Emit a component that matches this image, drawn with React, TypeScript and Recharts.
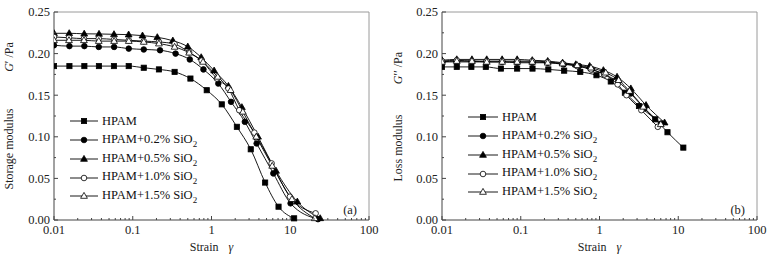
import React from "react"
import { LineChart, Line, XAxis, YAxis, ReferenceLine, Legend } from "recharts"

// (a) storage modulus G' (Pa) against strain
const strainA0 = [0.01, 0.0157, 0.0243, 0.0372, 0.0577, 0.0889, 0.138, 0.215, 0.34, 0.54, 0.87, 1.35, 2.1, 3.15, 4.8, 7.1, 11.2]
const storageA0 = [0.185, 0.185, 0.185, 0.185, 0.185, 0.185, 0.183, 0.181, 0.178, 0.17, 0.156, 0.139, 0.112, 0.085, 0.045, 0.016, 0.002]
const strainA02 = [0.01, 0.0157, 0.0243, 0.037, 0.058, 0.089, 0.138, 0.222, 0.35, 0.53, 0.79, 1.22, 1.77, 2.65, 3.74, 6.1, 10.1, 22.5]
const storageA02 = [0.21, 0.209, 0.209, 0.208, 0.208, 0.206, 0.205, 0.204, 0.2, 0.193, 0.181, 0.164, 0.142, 0.118, 0.092, 0.056, 0.02, 0.001]
const strainA05 = [0.01, 0.0156, 0.0242, 0.0373, 0.0578, 0.0887, 0.133, 0.205, 0.323, 0.5, 0.74, 1.08, 1.64, 2.43, 3.9, 6.6, 12.3, 24]
const storageA05 = [0.2244, 0.2244, 0.2238, 0.2236, 0.2232, 0.2228, 0.2216, 0.2196, 0.2155, 0.2083, 0.1955, 0.1795, 0.161, 0.1355, 0.1, 0.059, 0.022, 0.002]
const strainA10 = [0.01, 0.0155, 0.024, 0.037, 0.058, 0.089, 0.138, 0.215, 0.34, 0.52, 0.75, 1.17, 1.64, 2.25, 3.5, 5.8, 9.9, 21]
const storageA10 = [0.22, 0.219, 0.218, 0.218, 0.217, 0.216, 0.215, 0.214, 0.2115, 0.2015, 0.1915, 0.17, 0.158, 0.132, 0.105, 0.068, 0.028, 0.008]
const strainA15 = [0.01, 0.0155, 0.024, 0.037, 0.058, 0.089, 0.138, 0.215, 0.34, 0.52, 0.78, 1.2, 1.75, 2.5, 3.7, 5.9, 10.5, 20.5]
const storageA15 = [0.216, 0.216, 0.216, 0.215, 0.215, 0.215, 0.214, 0.212, 0.208, 0.201, 0.19, 0.172, 0.156, 0.13, 0.1, 0.065, 0.025, 0.002]

// (b) loss modulus G'' (Pa), right panel
const strainB0 = [0.01, 0.0154, 0.0236, 0.036, 0.056, 0.09, 0.141, 0.224, 0.356, 0.57, 0.915, 1.39, 2.1, 3.17, 5.1, 7.3, 11.6]
const lossB0 = [0.184, 0.184, 0.184, 0.184, 0.182, 0.182, 0.182, 0.181, 0.1795, 0.178, 0.174, 0.1665, 0.153, 0.137, 0.121, 0.1055, 0.087]
const strainB02 = [0.01, 0.0154, 0.024, 0.037, 0.058, 0.09, 0.14, 0.22, 0.35, 0.55, 0.8, 1.15, 1.73, 2.5, 3.7, 6.1]
const lossB02 = [0.19, 0.19, 0.19, 0.19, 0.19, 0.189, 0.189, 0.189, 0.187, 0.185, 0.181, 0.175, 0.166, 0.152, 0.134, 0.116]
const strainB05 = [0.01, 0.0154, 0.024, 0.037, 0.058, 0.09, 0.14, 0.22, 0.34, 0.5, 0.75, 1.12, 1.67, 2.5, 3.9, 6.7]
const lossB05 = [0.192, 0.193, 0.193, 0.193, 0.193, 0.193, 0.192, 0.191, 0.189, 0.187, 0.185, 0.18, 0.172, 0.158, 0.138, 0.117]
const strainB10 = [0.01, 0.0154, 0.024, 0.037, 0.058, 0.09, 0.14, 0.22, 0.34, 0.52, 0.78, 1.15, 1.7, 2.2, 3.4, 5.5]
const lossB10 = [0.191, 0.192, 0.191, 0.191, 0.191, 0.191, 0.191, 0.19, 0.188, 0.185, 0.181, 0.175, 0.163, 0.15, 0.132, 0.112]
const strainB15 = [0.01, 0.0154, 0.024, 0.037, 0.058, 0.09, 0.14, 0.22, 0.34, 0.52, 0.78, 1.2, 1.75, 2.4, 3.6, 6]
const lossB15 = [0.19, 0.191, 0.191, 0.19, 0.19, 0.19, 0.19, 0.189, 0.188, 0.186, 0.183, 0.177, 0.168, 0.155, 0.136, 0.115]

const seriesNames = ["HPAM", "HPAM+0.2% SiO", "HPAM+0.5% SiO", "HPAM+1.0% SiO", "HPAM+1.5% SiO"]

const strainTicks = [
	0.01, 0.02, 0.03, 0.04, 0.05, 0.06, 0.07, 0.08, 0.09,
	0.1, 0.2, 0.3, 0.4, 0.5, 0.6, 0.7, 0.8, 0.9,
	1, 2, 3, 4, 5, 6, 7, 8, 9,
	10, 20, 30, 40, 50, 60, 70, 80, 90, 100,
]
const strainMajor = [0.01, 0.1, 1, 10, 100]
const modulusTicks = [0, 0.025, 0.05, 0.075, 0.1, 0.125, 0.15, 0.175, 0.2, 0.225, 0.25]

type Shape = "square" | "circle" | "triangle"
const markers: { shape: Shape; filled: boolean }[] = [
	{ shape: "square", filled: true },
	{ shape: "circle", filled: true },
	{ shape: "triangle", filled: true },
	{ shape: "circle", filled: false },
	{ shape: "triangle", filled: false },
]

const FONT = "'Liberation Serif', 'Times New Roman', serif"
const AXIS = "#444"

const zip = (xs: number[], ys: number[]) => xs.map((x, i) => ({ x, y: ys[i] }))

function Marker({ cx, cy, shape, filled }: { cx: number; cy: number; shape: Shape; filled: boolean }) {
	const fill = filled ? "#000" : "#fff"
	if (shape === "square")
		return <rect x={cx - 2.6} y={cy - 2.6} width={5.2} height={5.2} fill={fill} stroke="#000" strokeWidth={0.8} />
	if (shape === "circle") return <circle cx={cx} cy={cy} r={2.8} fill={fill} stroke="#000" strokeWidth={0.8} />
	return (
		<polygon
			points={`${cx},${cy - 3.6} ${cx + 3.4},${cy + 2.3} ${cx - 3.4},${cy + 2.3}`}
			fill={fill}
			stroke="#000"
			strokeWidth={0.8}
		/>
	)
}

function StrainTick(props: any) {
	const { x, y, payload } = props
	const major = strainMajor.includes(payload.value)
	return (
		<g>
			<line x1={x} x2={x} y1={y} y2={y - (major ? 4 : 2)} stroke={AXIS} />
			{major && (
				<text x={x} y={y + 5} dy="0.71em" textAnchor="middle" fontFamily={FONT} fontSize={12.5} fill="#222">
					{String(payload.value)}
				</text>
			)}
		</g>
	)
}

function ModulusTick(props: any) {
	const { x, y, payload } = props
	const major = Math.round(payload.value * 1000) % 50 === 0
	return (
		<g>
			<line x1={x} x2={x + (major ? 4 : 2)} y1={y} y2={y} stroke={AXIS} />
			{major && (
				<text x={x - 4} y={y} dy="0.35em" textAnchor="end" fontFamily={FONT} fontSize={12.5} fill="#222">
					{payload.value.toFixed(2)}
				</text>
			)}
		</g>
	)
}

function LegendBox({ lineLen }: { lineLen: number }) {
	return (
		<div style={{ fontFamily: FONT, fontSize: 12.5, color: "#111" }}>
			{seriesNames.map((name, i) => (
				<div key={name} style={{ display: "flex", alignItems: "center", height: 18.75, whiteSpace: "nowrap" }}>
					<svg width={lineLen + 4} height={12} style={{ display: "block" }}>
						<line x1={0} x2={lineLen} y1={6} y2={6} stroke="#000" strokeWidth={0.9} />
						<Marker cx={lineLen / 2} cy={6} shape={markers[i].shape} filled={markers[i].filled} />
					</svg>
					<span>
						{name}
						{i > 0 && <sub style={{ fontSize: 9 }}>2</sub>}
					</span>
				</div>
			))}
		</div>
	)
}

type PanelProps = {
	curves: { x: number; y: number }[][]
	yTitle: string
	prime: string
	tag: string
	yAxisWidth: number
	marginRight: number
	titleX: number
	titleMid: number
	unitMid: number
	legendLeft: number
	legendTop: number
	lineLen: number
}

function Panel(p: PanelProps) {
	const xTitle = (props: any) => {
		const vb = props.viewBox
		return (
			<g fontFamily={FONT} fontSize={12} fill="#222">
				<text x={vb.x + vb.width / 2} y={251} textAnchor="middle">
					<tspan>Strain</tspan>
					<tspan dx={10} fontStyle="italic">γ</tspan>
				</text>
				<text x={vb.x + vb.width - 12} y={214} textAnchor="end" fontSize={12.5}>
					{p.tag}
				</text>
			</g>
		)
	}
	const yTitle = () => (
		<g fontFamily={FONT} fontSize={12} fill="#222">
			<text x={p.titleX} y={p.titleMid} textAnchor="middle" transform={`rotate(-90 ${p.titleX} ${p.titleMid})`}>
				{p.yTitle}
			</text>
			<text x={p.titleX} y={p.unitMid} textAnchor="middle" transform={`rotate(-90 ${p.titleX} ${p.unitMid})`}>
				<tspan fontStyle="italic">G</tspan>
				<tspan>{p.prime} /Pa</tspan>
			</text>
		</g>
	)
	return (
		<LineChart width={386} height={259} margin={{ top: 12, right: p.marginRight, bottom: 9, left: 0 }}>
			<XAxis
				xAxisId="s"
				dataKey="x"
				type="number"
				scale="log"
				domain={[0.01, 100]}
				ticks={strainTicks}
				interval={0}
				allowDataOverflow
				height={30}
				tickSize={0}
				tickMargin={0}
				tickLine={false}
				axisLine={{ stroke: AXIS }}
				tick={<StrainTick />}
				label={xTitle}
			/>
			<YAxis
				yAxisId="g"
				type="number"
				domain={[0, 0.25]}
				ticks={modulusTicks}
				interval={0}
				width={p.yAxisWidth}
				tickSize={0}
				tickMargin={0}
				tickLine={false}
				axisLine={{ stroke: AXIS }}
				tick={<ModulusTick />}
				label={yTitle}
			/>
			<ReferenceLine xAxisId="s" yAxisId="g" y={0.25} stroke="#9a9a9a" />
			<ReferenceLine xAxisId="s" yAxisId="g" x={100} stroke="#9a9a9a" />
			<Legend
				layout="vertical"
				align="center"
				verticalAlign="middle"
				wrapperStyle={{ left: p.legendLeft, top: p.legendTop, width: "auto" }}
				content={() => <LegendBox lineLen={p.lineLen} />}
			/>
			{p.curves.map((data, i) => (
				<Line
					key={seriesNames[i]}
					xAxisId="s"
					yAxisId="g"
					data={data}
					dataKey="y"
					name={seriesNames[i]}
					type="monotone"
					stroke="#000"
					strokeWidth={0.9}
					isAnimationActive={false}
					activeDot={false}
					dot={(d: any) => (
						<Marker key={`${i}-${d.index}`} cx={d.cx} cy={d.cy} shape={markers[i].shape} filled={markers[i].filled} />
					)}
				/>
			))}
		</LineChart>
	)
}

export default function App() {
	const storage = [
		zip(strainA0, storageA0),
		zip(strainA02, storageA02),
		zip(strainA05, storageA05),
		zip(strainA10, storageA10),
		zip(strainA15, storageA15),
	]
	const loss = [
		zip(strainB0, lossB0),
		zip(strainB02, lossB02),
		zip(strainB05, lossB05),
		zip(strainB10, lossB10),
		zip(strainB15, lossB15),
	]
	return (
		<div style={{ position: "absolute", left: 0, top: 0, width: 772, height: 259, background: "#fff", display: "flex" }}>
			<Panel
				curves={storage}
				yTitle="Storage modulus"
				prime="′"
				tag="(a)"
				yAxisWidth={54}
				marginRight={17}
				titleX={13}
				titleMid={149}
				unitMid={57}
				legendLeft={70}
				legendTop={112}
				lineLen={28}
			/>
			<Panel
				curves={loss}
				yTitle="Loss modulus"
				prime="′′"
				tag="(b)"
				yAxisWidth={56}
				marginRight={15}
				titleX={16}
				titleMid={148}
				unitMid={68}
				legendLeft={82}
				legendTop={108}
				lineLen={30}
			/>
		</div>
	)
}
